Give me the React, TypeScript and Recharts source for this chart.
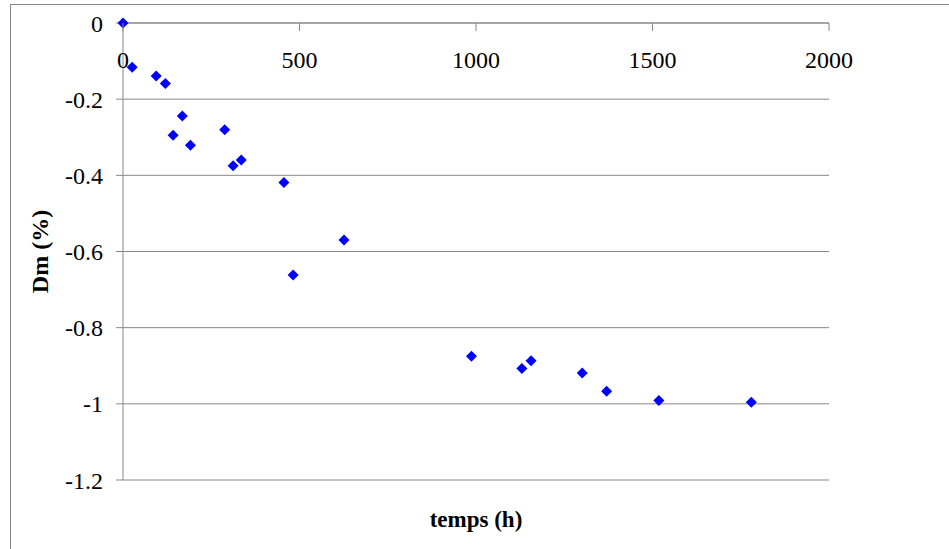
import { ScatterChart, Scatter, XAxis, YAxis, CartesianGrid } from 'recharts';

// Mass change vs exposure time
const timeHours = [0, 26, 94, 120, 168, 142, 191, 288, 312, 335, 456, 482, 626, 987, 1130, 1156, 1301, 1370, 1518, 1780];
const massChange = [
  0, -0.116, -0.139, -0.159, -0.244, -0.295, -0.321, -0.28, -0.375, -0.36, -0.419, -0.662, -0.57,
  -0.875, -0.907, -0.887, -0.919, -0.967, -0.991, -0.996,
];
const xTicks = [0, 500, 1000, 1500, 2000];
const yTicks = [0, -0.2, -0.4, -0.6, -0.8, -1, -1.2];

const FONT = 'Liberation Serif';
const LINE = '#888888';
const MARKER = '#0000FF';

const data = timeHours.map((t, i) => ({ t, dm: massChange[i] }));

function TopTick({ x, y, payload }: any) {
  return (
    <g>
      <line x1={x} y1={y} x2={x} y2={y + 8} stroke={LINE} />
      <text x={x} y={y + 45} textAnchor="middle" fontSize={24} fontFamily={FONT} fill="#000">
        {payload.value}
      </text>
    </g>
  );
}

function Diamond({ cx, cy }: any) {
  const r = 5.5;
  return <path d={`M${cx} ${cy - r}L${cx + r} ${cy}L${cx} ${cy + r}L${cx - r} ${cy}Z`} fill={MARKER} />;
}

const xLabel = ({ viewBox }: any) => (
  <text
    x={viewBox.x + viewBox.width / 2}
    y={527}
    textAnchor="middle"
    fontSize={23}
    fontWeight="bold"
    fontFamily={FONT}
    fill="#000"
  >
    temps (h)
  </text>
);

const yLabel = ({ viewBox }: any) => {
  const cy = viewBox.y + viewBox.height / 2;
  return (
    <text
      x={48}
      y={cy}
      transform={`rotate(-90, 48, ${cy})`}
      textAnchor="middle"
      fontSize={24}
      fontWeight="bold"
      fontFamily={FONT}
      fill="#000"
    >
      Dm (%)
    </text>
  );
};

export default function App() {
  return (
    <div
      style={{
        position: 'absolute',
        left: 0,
        top: 0,
        width: 949,
        height: 549,
        background: '#fff',
        fontFamily: FONT,
      }}
    >
      <div
        style={{
          position: 'absolute',
          left: 10,
          top: 4,
          right: 0,
          bottom: 0,
          borderLeft: `1px solid ${LINE}`,
          borderTop: `1px solid ${LINE}`,
        }}
      />
      <div style={{ position: 'absolute', left: 0, top: 0 }}>
        <ScatterChart width={949} height={549} margin={{ top: 22, right: 120, bottom: 69, left: 0 }}>
          <CartesianGrid horizontal vertical={false} stroke={LINE} />
          <XAxis
            type="number"
            dataKey="t"
            orientation="top"
            domain={[0, 2000]}
            ticks={xTicks}
            height={1}
            tickSize={0}
            tickMargin={0}
            tickLine={false}
            axisLine={{ stroke: LINE }}
            tick={<TopTick />}
            label={xLabel}
          />
          <YAxis
            type="number"
            dataKey="dm"
            domain={[-1.2, 0]}
            ticks={yTicks}
            width={123}
            tickSize={7}
            tickMargin={13}
            axisLine={{ stroke: LINE }}
            tickLine={{ stroke: LINE }}
            tick={{ fill: '#000', fontSize: 24, fontFamily: FONT }}
            tickFormatter={(v: number) => String(v)}
            label={yLabel}
          />
          <Scatter data={data} shape={<Diamond />} isAnimationActive={false} />
        </ScatterChart>
      </div>
    </div>
  );
}
